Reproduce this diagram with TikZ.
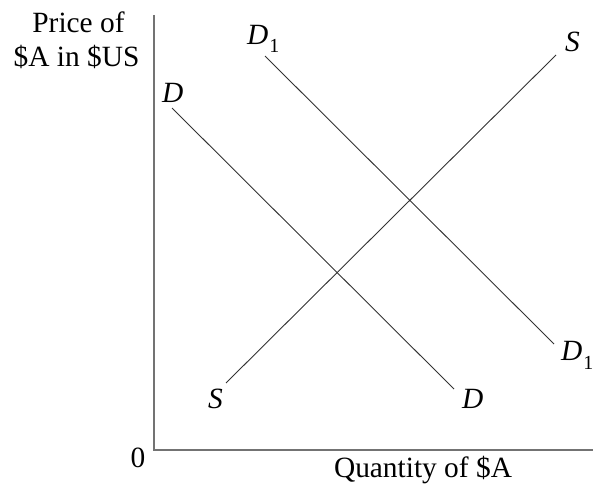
\documentclass[tikz,border=0pt]{standalone}
\usepackage{fontspec}
\setmainfont{Liberation Serif}
\begin{document}
\begin{tikzpicture}[x=1bp,y=-1bp,
 lbl/.style={inner sep=0pt, anchor=base, font=\fontsize{29.5}{34}\selectfont},
 curvelbl/.style={inner sep=0pt, anchor=base west, font=\fontsize{29.5}{34}\selectfont\itshape},
 curve/.style={draw=black!80, line width=0.9bp},
 axis/.style={draw=black!55, line width=1.3bp}]
\useasboundingbox (0,0) rectangle (593,494);
% axes
\coordinate (ytop) at (154,15);
\coordinate (o) at (154,450);
\coordinate (xend) at (593,450);
\draw[axis] (ytop) -- (o) -- (xend);
% axis labels
\node[lbl] (p1) at (78.5,33) {Price of};
\node[lbl] (p2) at (76.5,67) {\$A in \$US};
\node[lbl] (q) at (423,477) {Quantity of \$A};
\node[lbl] (zero) at (138,467) {0};
% curves
\coordinate (d1) at (172,108);
\coordinate (d2) at (454,389);
\coordinate (e1) at (265,56);
\coordinate (e2) at (554,344);
\coordinate (s1) at (226,383);
\coordinate (s2) at (556,55);
\draw[curve] (d1) -- (d2);
\draw[curve] (e1) -- (e2);
\draw[curve] (s1) -- (s2);
% curve labels
\node[curvelbl] (dtop) at (162,103) {D};
\node[curvelbl] (dbot) at (462,408) {D};
\node[curvelbl] (etop) at (247,45) {D\hspace{1bp}\raisebox{-8bp}{\fontsize{20}{20}\selectfont\upshape 1}};
\node[curvelbl] (ebot) at (561,360) {D\hspace{1bp}\raisebox{-9bp}{\fontsize{20}{20}\selectfont\upshape 1}};
\node[curvelbl] (stop) at (565,52) {S};
\node[curvelbl] (sbot) at (208,408) {S};
\end{tikzpicture}
\end{document}
